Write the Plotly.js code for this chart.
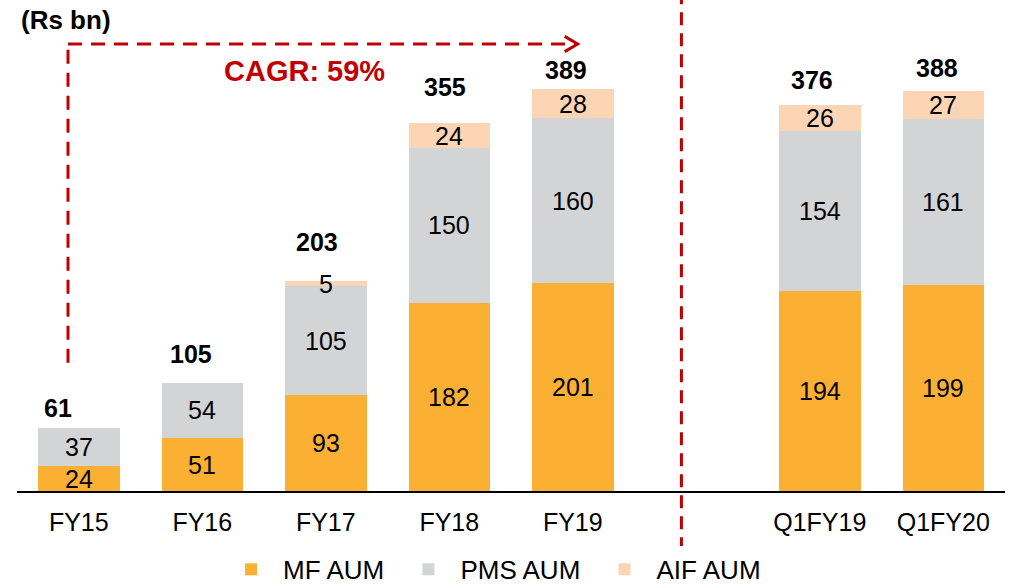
<!DOCTYPE html>
<html>
<head>
<meta charset="utf-8">
<script src="https://cdn.plot.ly/plotly-3.0.1.min.js"></script>
<style>html,body{margin:0;padding:0;background:#fff;}#chart{width:1009px;height:588px;}</style>
</head>
<body>
<div id="chart"></div>
<script>
const categories = ['FY15', 'FY16', 'FY17', 'FY18', 'FY19', ' ', 'Q1FY19', 'Q1FY20'];
const mfAUM  = [24, 51, 93, 182, 201, null, 194, 199];
const pmsAUM = [37, 54, 105, 150, 160, null, 154, 161];
const aifAUM = [null, null, 5, 24, 28, null, 26, 27];
const totals = [61, 105, 203, 355, 389, null, 376, 388];
const seriesNames = ['MF AUM', 'PMS AUM', 'AIF AUM'];
const cagrText = 'CAGR: 59%';
const unitText = '(Rs bn)';

const colors = ['#FBB034', '#D3D4D6', '#FCD5B5'];
const FONT = 'Liberation Sans, Arial, sans-serif';
const RED = '#C00000';

const series = [mfAUM, pmsAUM, aifAUM];
const traces = series.map((vals, i) => ({
  type: 'bar',
  name: seriesNames[i] + '\u00a0',
  x: categories,
  y: vals,
  marker: {color: colors[i], line: {width: 0}},
  hoverinfo: 'none'
}));

const annotations = [];
// segment labels
categories.forEach((c, ci) => {
  let base = 0;
  series.forEach((vals) => {
    const v = vals[ci];
    if (v != null) {
      annotations.push({x: c, y: base + v / 2, xref: 'x', yref: 'y', text: String(v),
        showarrow: false, font: {family: FONT, size: 25, color: '#000'}});
      base += v;
    }
  });
});
// total labels
const totalXShift = [-21, -11, -9, -4, -7, 0, -8, -6];
const totalYShift = [20, 29, 39, 37, 19, 0, 22, 22];
categories.forEach((c, ci) => {
  if (totals[ci] == null) return;
  annotations.push({x: c, y: totals[ci], xref: 'x', yref: 'y', text: '<b>' + totals[ci] + '</b>',
    showarrow: false, xshift: totalXShift[ci], yshift: totalYShift[ci],
    font: {family: FONT, size: 25, color: '#000'}});
});
annotations.push({x: 0.0496, y: 0.979, xref: 'paper', yref: 'paper', xanchor: 'center', yanchor: 'middle',
  text: '<b>' + unitText + '</b>',
  showarrow: false, font: {family: FONT, size: 26, color: '#000'}});
annotations.push({x: 1.83, y: 406, xref: 'x', yref: 'y', xanchor: 'center', yanchor: 'middle',
  text: '<b>' + cagrText + '</b>',
  showarrow: false, font: {family: FONT, size: 29, color: RED}});

const shapes = [
  // vertical divider
  {type: 'line', xref: 'x', yref: 'paper', x0: 4.88, x1: 4.88, y0: -0.123, y1: 1.03,
    line: {color: RED, width: 3, dash: '13px,8px'}},
  // CAGR bracket
  {type: 'line', xref: 'x', yref: 'y', x0: -0.087, x1: -0.087, y0: 124, y1: 432.6,
    line: {color: RED, width: 3, dash: '14px,9px'}},
  {type: 'line', xref: 'x', yref: 'y', x0: -0.087, x1: 4.03, y0: 432.6, y1: 432.6,
    line: {color: RED, width: 3, dash: '14px,9px'}},
  {type: 'path', xref: 'x', yref: 'y', path: 'M 3.935 440 L 4.04 432.6 L 3.935 425.2',
    line: {color: RED, width: 3}}
];

const layout = {
  width: 1009, height: 588,
  margin: {l: 17, r: 4, t: 10, b: 97, autoexpand: false},
  paper_bgcolor: '#fff', plot_bgcolor: '#fff',
  barmode: 'stack',
  bargap: 0.34,
  showlegend: true,
  legend: {orientation: 'h', x: 0.2045, xanchor: 'left', y: -0.163, yanchor: 'middle',
    itemwidth: 54, traceorder: 'normal', font: {family: FONT, size: 26, color: '#000'}},
  xaxis: {type: 'category', categoryorder: 'array', categoryarray: categories,
    showline: true, linecolor: '#000', linewidth: 1.5, showgrid: false, zeroline: false,
    ticks: '', ticklabelstandoff: 8, tickfont: {family: FONT, size: 25, color: '#000'}, fixedrange: true},
  yaxis: {range: [0, 465.5], visible: false, showgrid: false, zeroline: false, fixedrange: true},
  annotations: annotations,
  shapes: shapes,
  font: {family: FONT}
};

Plotly.newPlot('chart', traces, layout, {displayModeBar: false, staticPlot: true});
</script>
</body>
</html>
